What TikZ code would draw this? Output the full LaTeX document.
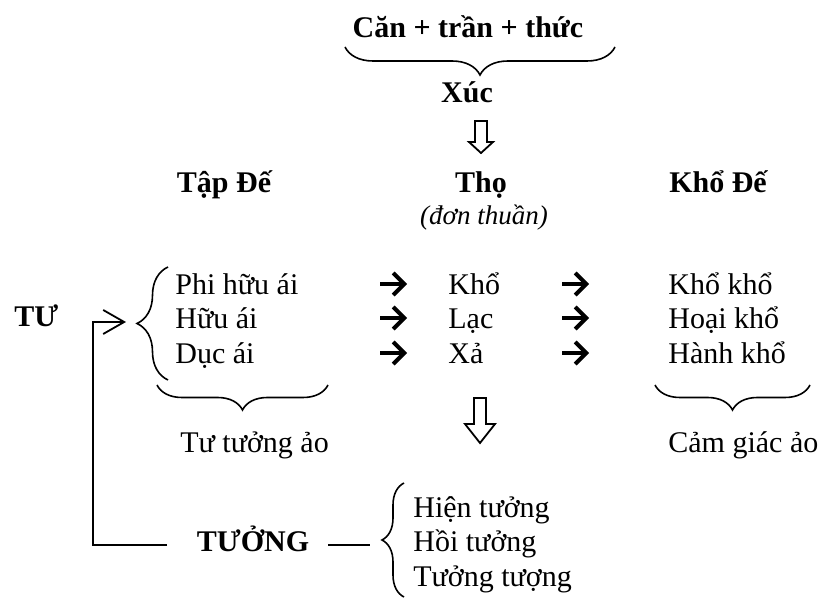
\documentclass[tikz,border=0pt]{standalone}
\usepackage{fontspec}
\setmainfont{Liberation Serif}
\usetikzlibrary{decorations.pathreplacing,arrows.meta}
\begin{document}
\begin{tikzpicture}[x=0.5pt,y=-0.5pt,
  txt/.style={inner sep=0pt, anchor=base west, font=\fontsize{15}{18}\selectfont},
  ctxt/.style={inner sep=0pt, anchor=base, font=\fontsize{15}{18}\selectfont},
  bld/.style={inner sep=0pt, anchor=base, font=\fontsize{15}{18}\selectfont\bfseries},
  brc/.style={decorate, decoration={brace, amplitude=#1}, line width=0.8pt},
  ln/.style={line width=0.9pt},
  rowarr/.style={line width=2pt, -{Straight Barb[length=5.5pt,width=11pt]}},
  hollow/.style={line width=0.9pt, fill=white}
]
\fill[white] (0,0) rectangle (825,598);
\useasboundingbox (0,0) rectangle (825,598);

% top
\node[bld] (cantran) at (468,38) {Căn + trần + thức};
\draw[brc=14pt] (615,47) -- (345,47);
\node[bld] (xuc) at (467,103) {Xúc};
\draw[hollow] (475,121) -- (487,121) -- (487,142) -- (493,142) -- (481,153) -- (469,142) -- (475,142) -- cycle;

% headers
\node[bld] (tapde) at (224,193) {Tập Đế};
\node[bld] (tho) at (481,193) {Thọ};
\node[ctxt, font=\fontsize{13.5}{16}\selectfont\itshape] (donthuan) at (484,225) {(đơn thuần)};
\node[bld] (khode) at (718,193) {Khổ Đế};

% rows
\node[txt] (r1a) at (175,295) {Phi hữu ái};
\node[txt] (r2a) at (175,329) {Hữu ái};
\node[txt] (r3a) at (175,364) {Dục ái};
\node[txt] (r1b) at (448,295) {Khổ};
\node[txt] (r2b) at (448,329) {Lạc};
\node[txt] (r3b) at (448,364) {Xả};
\node[txt] (r1c) at (668,295) {Khổ khổ};
\node[txt] (r2c) at (668,329) {Hoại khổ};
\node[txt] (r3c) at (668,364) {Hành khổ};

% row arrows
\coordinate (a1s) at (380,284); \coordinate (a1e) at (407,284);
\coordinate (a2s) at (380,318); \coordinate (a2e) at (407,318);
\coordinate (a3s) at (380,353); \coordinate (a3e) at (407,353);
\coordinate (b1s) at (562,284); \coordinate (b1e) at (589,284);
\coordinate (b2s) at (562,318); \coordinate (b2e) at (589,318);
\coordinate (b3s) at (562,353); \coordinate (b3e) at (589,353);
\foreach \p in {a1,a2,a3,b1,b2,b3} \draw[rowarr] (\p s) -- (\p e);

% TU and brace
\node[bld, anchor=base west] (tu) at (14,327) {TƯ};
\draw[brc=15.5pt] (168,380) -- (168,267);

% bottom braces
\draw[brc=12.5pt] (328,385) -- (157,385);
\draw[brc=12.5pt] (810,385) -- (655,385);
\node[txt] (tuao) at (180,453) {Tư tưởng ảo};
\node[txt] (camao) at (668,453) {Cảm giác ảo};

% second hollow arrow
\draw[hollow] (474,398) -- (486,398) -- (486,424) -- (495,424) -- (480,443) -- (465,424) -- (474,424) -- cycle;

% TUONG
\node[bld] (tuong) at (253,552) {TƯỞNG};
\coordinate (tl) at (167,545);
\coordinate (c1) at (93,545);
\coordinate (c2) at (93,322);
\coordinate (c3) at (126,322);
\draw[ln, -{Straight Barb[length=10.5pt,width=12pt]}] (tl) -- (c1) -- (c2) -- (c3);
\coordinate (tr) at (328,545);
\coordinate (tre) at (370,545);
\draw[ln] (tr) -- (tre);
\draw[brc=11pt] (404,597) -- (404,483);
\node[txt] (h1) at (413,517) {Hiện tưởng};
\node[txt] (h2) at (413,552) {Hồi tưởng};
\node[txt] (h3) at (413,587) {Tưởng tượng};
\end{tikzpicture}
\end{document}
